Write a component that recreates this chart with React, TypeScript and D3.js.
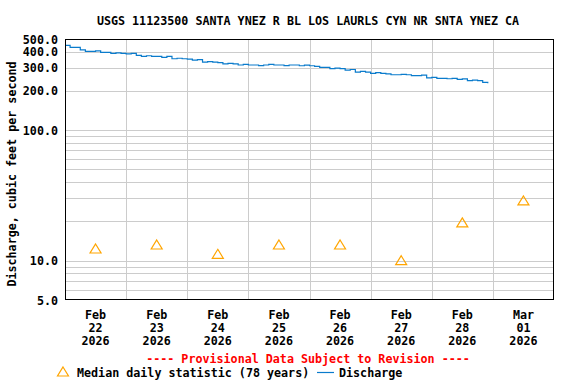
import React, { useEffect, useRef } from "react";
import * as d3 from "d3";

const title = "USGS 11123500 SANTA YNEZ R BL LOS LAURLS CYN NR SNTA YNEZ CA";

// median daily statistic, one per day (plotted at noon)
const medianDays = ["2026-02-22", "2026-02-23", "2026-02-24", "2026-02-25", "2026-02-26", "2026-02-27", "2026-02-28", "2026-03-01"];
const medianValues = [12.3, 13.2, 11.2, 13.2, 13.2, 10.0, 19.5, 28.7];

// discharge, every 2 hours starting Feb 22 00:00
const dischargeStart = "2026-02-22T00:00:00";
const dischargeValues = [
  447, 432, 432, 412, 402, 402, 405, 395, 395, 388, 391, 388,
  385, 388, 375, 368, 372, 368, 368, 362, 368, 353, 356, 353,
  350, 345, 348, 333, 336, 333, 330, 322, 325, 322, 316, 319,
  316, 316, 313, 316, 319, 316, 316, 313, 316, 316, 312, 315,
  312, 309, 303, 303, 296, 299, 296, 289, 292, 279, 282, 279,
  273, 276, 273, 270, 266, 266, 268, 266, 262, 262, 264, 252,
  254, 250, 250, 248, 250, 245, 247, 240, 242, 240, 233, 229,
];

const yTickLabels = [5, 10, 100, 200, 300, 400, 500];
const yGrid = [6, 7, 8, 9, 10, 20, 30, 40, 50, 60, 70, 80, 90, 100, 200, 300, 400];
const xLabelDays = ["Feb|22|2026", "Feb|23|2026", "Feb|24|2026", "Feb|25|2026", "Feb|26|2026", "Feb|27|2026", "Feb|28|2026", "Mar|01|2026"];

const FONT = "'DejaVu Sans Mono', monospace";

export default function App() {
  const ref = useRef<SVGSVGElement>(null);

  useEffect(() => {
    const width = 576;
    const height = 384;
    const left = 65, right = 554, top = 39, bottom = 300;

    const svg = d3.select(ref.current);
    svg.selectAll("*").remove();
    svg.attr("width", width).attr("height", height);

    svg.append("rect").attr("width", width).attr("height", height).attr("fill", "white");

    const x = d3
      .scaleTime()
      .domain([new Date(2026, 1, 22, 0), new Date(2026, 2, 2, 0)])
      .range([left, right]);
    const y = d3.scaleLog().domain([5, 500]).range([bottom, top]);

    // grid
    const grid = svg.append("g").attr("stroke", "#cccccc").attr("stroke-width", 1);
    grid
      .selectAll("line.h")
      .data(yGrid)
      .join("line")
      .attr("x1", left)
      .attr("x2", right)
      .attr("y1", (d) => Math.round(y(d)) + 0.5)
      .attr("y2", (d) => Math.round(y(d)) + 0.5);
    const midnights = d3.timeDay.range(new Date(2026, 1, 23), new Date(2026, 2, 2));
    grid
      .selectAll("line.v")
      .data(midnights)
      .join("line")
      .attr("y1", top)
      .attr("y2", bottom)
      .attr("x1", (d) => Math.round(x(d)) + 0.5)
      .attr("x2", (d) => Math.round(x(d)) + 0.5);

    // discharge line
    const t0 = new Date(dischargeStart).getTime();
    const series = dischargeValues.map((v, i) => ({ t: new Date(t0 + i * 2 * 3600 * 1000), v }));
    const line = d3
      .line<{ t: Date; v: number }>()
      .x((d) => x(d.t))
      .y((d) => y(d.v))
      .curve(d3.curveStepAfter);
    svg
      .append("path")
      .datum(series)
      .attr("d", line)
      .attr("fill", "none")
      .attr("stroke", "#0a7bcc")
      .attr("stroke-width", 1.2);

    // medians
    const tri = "M0,-5L5.5,4L-5.5,4Z";
    svg
      .append("g")
      .selectAll("path")
      .data(medianDays.map((d, i) => ({ t: new Date(d + "T12:00:00"), v: medianValues[i] })))
      .join("path")
      .attr("transform", (d) => `translate(${x(d.t)},${y(d.v)})`)
      .attr("d", tri)
      .attr("fill", "none")
      .attr("stroke", "#ffa500")
      .attr("stroke-width", 1.2);

    // frame
    svg
      .append("rect")
      .attr("x", left + 0.5)
      .attr("y", top + 0.5)
      .attr("width", right - left - 1)
      .attr("height", bottom - top - 1)
      .attr("fill", "none")
      .attr("stroke", "black");

    const txt = svg
      .append("g")
      .attr("font-family", FONT)
      .attr("font-weight", "bold")
      .attr("font-size", 11.7)
      .attr("fill", "black");

    txt.append("text").attr("x", 308).attr("y", 25).attr("text-anchor", "middle").text(title);

    txt
      .selectAll("text.yl")
      .data(yTickLabels)
      .join("text")
      .attr("x", 58)
      .attr("y", (d) => y(d) + 4.5)
      .attr("text-anchor", "end")
      .text((d) => d.toFixed(1));

    txt
      .append("text")
      .attr("transform", "translate(16,174) rotate(-90)")
      .attr("text-anchor", "middle")
      .text("Discharge, cubic feet per second");

    xLabelDays.forEach((lab, i) => {
      const cx = x(new Date(medianDays[i] + "T12:00:00"));
      lab.split("|").forEach((part, j) => {
        txt
          .append("text")
          .attr("x", cx)
          .attr("y", 319 + j * 13)
          .attr("text-anchor", "middle")
          .text(part);
      });
    });

    txt
      .append("text")
      .attr("x", 308)
      .attr("y", 363)
      .attr("text-anchor", "middle")
      .attr("fill", "#ff0000")
      .text("---- Provisional Data Subject to Revision ----");

    // legend
    svg
      .append("path")
      .attr("transform", "translate(63,372)")
      .attr("d", tri)
      .attr("fill", "none")
      .attr("stroke", "#ffa500")
      .attr("stroke-width", 1.2);
    txt.append("text").attr("x", 77).attr("y", 377).text("Median daily statistic (78 years)");
    svg
      .append("line")
      .attr("x1", 317)
      .attr("x2", 334)
      .attr("y1", 372.5)
      .attr("y2", 372.5)
      .attr("stroke", "#0a7bcc")
      .attr("stroke-width", 1.2);
    txt.append("text").attr("x", 339).attr("y", 377).text("Discharge");
  }, []);

  return <svg ref={ref} style={{ position: "absolute", left: 0, top: 0 }} />;
}
